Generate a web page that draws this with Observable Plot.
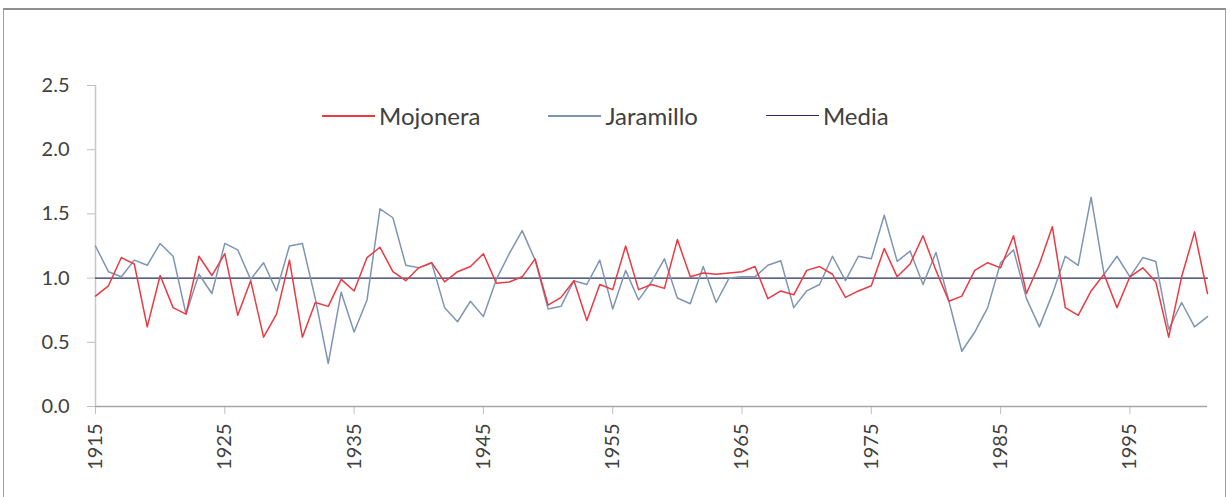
<!DOCTYPE html>
<html>
<head>
<meta charset="utf-8">
<script src="https://cdn.jsdelivr.net/npm/d3@7"></script>
<script src="https://cdn.jsdelivr.net/npm/@observablehq/plot@0.6"></script>
<style>
  html, body { margin: 0; padding: 0; background: #fff; }
  #wrap { position: relative; width: 1230px; height: 497px; overflow: hidden; font-family: Lato, "Open Sans", sans-serif; }
  #frame { position: absolute; left: 3px; top: 8px; width: 1223px; height: 520px; border: 1px solid #a0a0a0; border-top: 2px solid #8f8f8f; box-sizing: border-box; }
  #chart { position: absolute; left: 0; top: 0; }
  #legend { position: absolute; left: 322px; top: 101px; display: flex; align-items: center; font-size: 24px; color: #404040; }
  .item { display: flex; align-items: center; margin-right: 68px; }
  .sw { width: 53px; height: 0; border-top: 2px solid; margin-right: 4px; }
</style>
</head>
<body>
<div id="wrap">
  <div id="frame"></div>
  <div id="chart"></div>
  <div id="legend"></div>
</div>
<script>
const years = [1915,1916,1917,1918,1919,1920,1921,1922,1923,1924,1925,1926,1927,1928,1929,1930,1931,1932,1933,1934,1935,1936,1937,1938,1939,1940,1941,1942,1943,1944,1945,1946,1947,1948,1949,1950,1951,1952,1953,1954,1955,1956,1957,1958,1959,1960,1961,1962,1963,1964,1965,1966,1967,1968,1969,1970,1971,1972,1973,1974,1975,1976,1977,1978,1979,1980,1981,1982,1983,1984,1985,1986,1987,1988,1989,1990,1991,1992,1993,1994,1995,1996,1997,1998,1999,2000,2001];

const mojonera = [0.86,0.94,1.16,1.11,0.62,1.02,0.77,0.72,1.17,1.02,1.19,0.71,0.98,0.54,0.72,1.14,0.54,0.81,0.78,0.99,0.90,1.16,1.24,1.05,0.98,1.08,1.12,0.97,1.05,1.09,1.19,0.96,0.97,1.01,1.15,0.79,0.85,0.98,0.67,0.95,0.91,1.25,0.91,0.95,0.92,1.30,1.01,1.04,1.03,1.04,1.05,1.09,0.84,0.90,0.87,1.06,1.09,1.03,0.85,0.90,0.94,1.23,1.01,1.11,1.33,1.06,0.82,0.86,1.06,1.12,1.08,1.33,0.88,1.11,1.40,0.77,0.71,0.90,1.03,0.77,1.01,1.08,0.97,0.54,1.01,1.36,0.88];

const jaramillo = [1.25,1.05,1.01,1.14,1.10,1.27,1.17,0.72,1.03,0.88,1.27,1.22,0.99,1.12,0.90,1.25,1.27,0.84,0.335,0.89,0.58,0.83,1.54,1.47,1.10,1.08,1.12,0.77,0.66,0.82,0.70,0.99,1.19,1.37,1.14,0.76,0.78,0.98,0.95,1.14,0.76,1.06,0.83,0.97,1.15,0.845,0.80,1.09,0.81,1.00,1.01,1.01,1.10,1.135,0.77,0.90,0.95,1.17,0.98,1.17,1.15,1.49,1.13,1.21,0.95,1.20,0.82,0.43,0.58,0.77,1.12,1.22,0.84,0.62,0.875,1.17,1.10,1.63,1.03,1.17,1.01,1.16,1.13,0.60,0.81,0.62,0.70];

const media = 1.0;

const seriesNames = ["Mojonera", "Jaramillo", "Media"];
const seriesColors = ["#ea3a42", "#7f95b3", "#26305e"];

const xTicks = [1915,1925,1935,1945,1955,1965,1975,1985,1995];
const yTicks = [0.0,0.5,1.0,1.5,2.0,2.5];

const rowsMoj = years.map((y, i) => ({year: y, value: mojonera[i]}));
const rowsJar = years.map((y, i) => ({year: y, value: jaramillo[i]}));
const rowsMed = years.map(y => ({year: y, value: media}));

const plot = Plot.plot({
  width: 1230,
  height: 497,
  marginLeft: 95,
  marginRight: 23,
  marginTop: 85,
  marginBottom: 91,
  style: {fontFamily: "Lato, 'Open Sans', sans-serif", background: "transparent", overflow: "visible"},
  x: {domain: [years[0], years[years.length - 1]]},
  y: {domain: [0, 2.5]},
  marks: [
    Plot.axisY({ticks: yTicks, tickFormat: d3.format(".1f"), tickSize: 8, tickPadding: 18, stroke: "#bfbfbf", fill: "#404040", fontSize: 20, label: null}),
    Plot.axisX({ticks: xTicks, tickFormat: d => String(d), tickRotate: -90, tickSize: 8, tickPadding: 9, stroke: "#bfbfbf", fill: "#404040", fontSize: 20, label: null}),
    Plot.ruleX([years[0]], {stroke: "#c8c8c8", strokeWidth: 1.5}),
    Plot.ruleY([0], {stroke: "#a6a6a6", strokeWidth: 1.5}),
    Plot.line(rowsMed, {x: "year", y: "value", stroke: seriesColors[2], strokeWidth: 1.2}),
    Plot.line(rowsJar, {x: "year", y: "value", stroke: seriesColors[1], strokeWidth: 1.5}),
    Plot.line(rowsMoj, {x: "year", y: "value", stroke: seriesColors[0], strokeWidth: 1.5})
  ]
});
document.getElementById("chart").appendChild(plot);

const legend = document.getElementById("legend");
seriesNames.forEach((name, i) => {
  const item = document.createElement("div");
  item.className = "item";
  const sw = document.createElement("span");
  sw.className = "sw";
  sw.style.borderTopColor = seriesColors[i];
  sw.style.borderTopWidth = i === 2 ? "1.5px" : "2px";
  const t = document.createElement("span");
  t.textContent = name;
  item.appendChild(sw);
  item.appendChild(t);
  legend.appendChild(item);
});
</script>
</body>
</html>
